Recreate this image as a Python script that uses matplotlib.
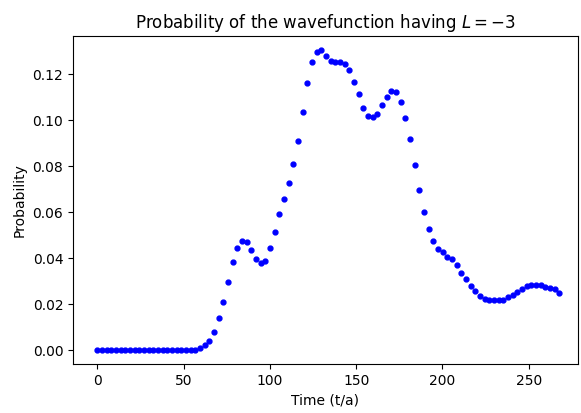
import matplotlib
matplotlib.use('Agg')
import matplotlib.pyplot as plt

# time points (t/a) and probability of L = -3
time = [0.0, 2.7, 5.4, 8.1, 10.8, 13.5, 16.2, 18.9, 21.6, 24.3,
        27.0, 29.7, 32.4, 35.2, 37.9, 40.6, 43.3, 46.0, 48.7, 51.4,
        54.1, 56.8, 59.5, 62.2, 64.9, 67.6, 70.3, 73.0, 75.7, 78.4,
        81.1, 83.8, 86.5, 89.2, 91.9, 94.6, 97.3, 100.0, 102.8, 105.5,
        108.2, 110.9, 113.6, 116.3, 119.0, 121.7, 124.4, 127.1, 129.8, 132.5,
        135.2, 137.9, 140.6, 143.3, 146.0, 148.7, 151.4, 154.1, 156.8, 159.5,
        162.2, 164.9, 167.6, 170.4, 173.1, 175.8, 178.5, 181.2, 183.9, 186.6,
        189.3, 192.0, 194.7, 197.4, 200.1, 202.8, 205.5, 208.2, 210.9, 213.6,
        216.3, 219.0, 221.7, 224.4, 227.1, 229.8, 232.5, 235.2, 238.0, 240.7,
        243.4, 246.1, 248.8, 251.5, 254.2, 256.9, 259.6, 262.3, 265.0, 267.7]

prob = [0.0, 0.0, 0.0, 0.0, 0.0, 0.0, 0.0, 0.0, 0.0, 0.0,
        0.0, 0.0, 0.0, 0.0, 0.0, 0.0, 0.0, 0.0, 0.0, 0.0,
        0.0, 0.0002, 0.0007, 0.0022, 0.0040, 0.0080, 0.0140, 0.0211, 0.0297, 0.0382,
        0.0442, 0.0476, 0.0469, 0.0435, 0.0395, 0.0377, 0.0389, 0.0443, 0.0515, 0.0593,
        0.0659, 0.0726, 0.0811, 0.0910, 0.1035, 0.1161, 0.1253, 0.1297, 0.1306, 0.1280,
        0.1259, 0.1253, 0.1255, 0.1246, 0.1219, 0.1167, 0.1115, 0.1055, 0.1020, 0.1014,
        0.1029, 0.1068, 0.1101, 0.1129, 0.1122, 0.1081, 0.1009, 0.0917, 0.0804, 0.0698,
        0.0601, 0.0527, 0.0475, 0.0440, 0.0427, 0.0406, 0.0395, 0.0370, 0.0337, 0.0310,
        0.0277, 0.0257, 0.0236, 0.0223, 0.0218, 0.0218, 0.0218, 0.0218, 0.0231, 0.0239,
        0.0253, 0.0266, 0.0279, 0.0284, 0.0284, 0.0283, 0.0276, 0.0269, 0.0264, 0.0249]

fig = plt.figure(figsize=(5.81, 4.13), dpi=100)
ax = fig.add_axes([0.1256, 0.1186, 0.8692, 0.7942])
ax.plot(time, prob, 'b.', markersize=7)
ax.set_xlim(-14.1, 278.5)
ax.set_ylim(-0.0061, 0.1367)
ax.set_xticks([0, 50, 100, 150, 200, 250])
ax.set_yticks([0.0, 0.02, 0.04, 0.06, 0.08, 0.10, 0.12])
ax.set_title('Probability of the wavefunction having $L = -3$')
ax.set_xlabel('Time (t/a)')
ax.set_ylabel('Probability')
fig.savefig('out.png', dpi=100)
plt.close()
